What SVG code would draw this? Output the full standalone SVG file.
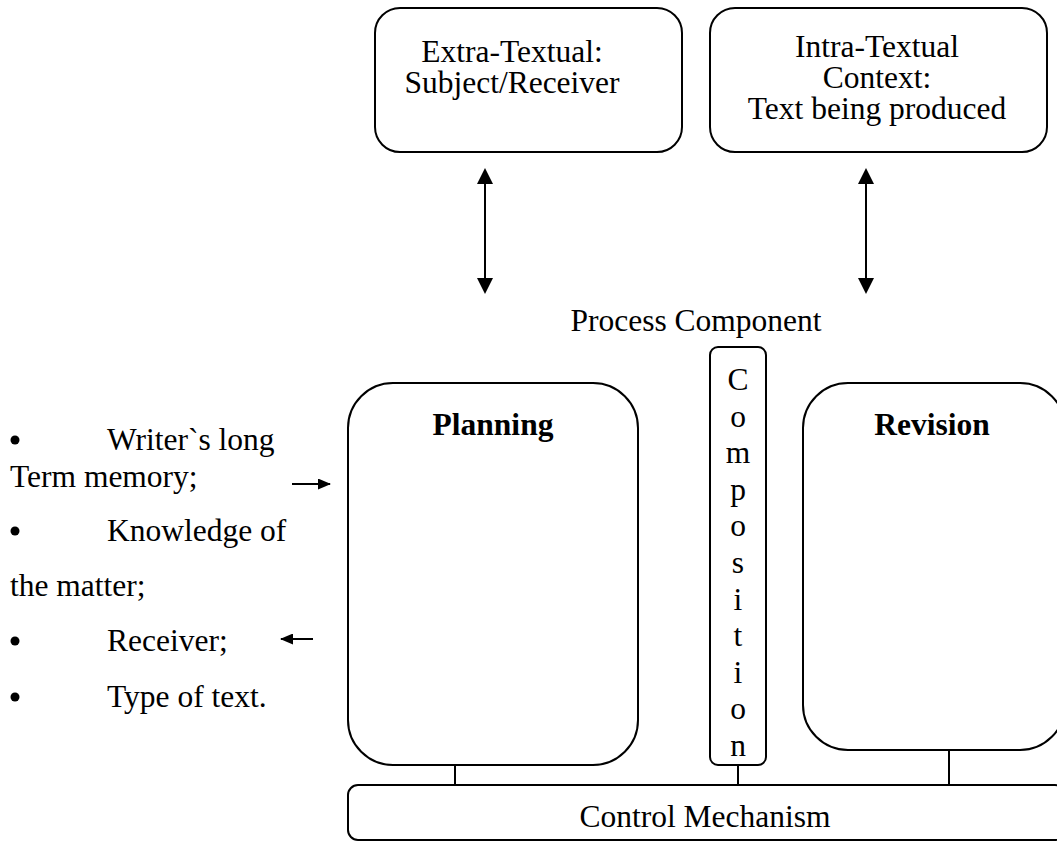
<svg xmlns="http://www.w3.org/2000/svg" width="1057" height="842" viewBox="0 0 1057 842">
<style>
.box{fill:#fff;stroke:#000;stroke-width:2}
.t{font-family:"Liberation Serif","Times New Roman",serif;font-size:31.5px;fill:#000}
.c{text-anchor:middle}
.b{font-weight:bold}
.ln{stroke:#000;stroke-width:2;fill:none}
</style>
<defs>
<marker id="ah" viewBox="0 0 16 16" refX="14" refY="8" markerWidth="16" markerHeight="16" markerUnits="userSpaceOnUse" orient="auto-start-reverse">
<path d="M0,0 L16,8 L0,16 Z" fill="#000"/>
</marker>
<marker id="sh" viewBox="0 0 13 11" refX="12" refY="5.5" markerWidth="13" markerHeight="11" markerUnits="userSpaceOnUse" orient="auto">
<path d="M0,0 L13,5.5 L0,11 Z" fill="#000"/>
</marker>
</defs>
<rect width="1057" height="842" fill="#fff"/>
<g id="extra-textual">
<rect class="box" x="375" y="8" width="307" height="144" rx="25"/>
<text class="t c" x="512" y="62">Extra-Textual:</text>
<text class="t c" x="512" y="93">Subject/Receiver</text>
</g>
<g id="intra-textual">
<rect class="box" x="710" y="8" width="337" height="144" rx="25"/>
<text class="t c" x="877" y="57">Intra-Textual</text>
<text class="t c" x="877" y="88">Context:</text>
<text class="t c" x="877" y="119">Text being produced</text>
</g>
<g id="process-label">
<text class="t c" x="696" y="331">Process Component</text>
</g>
<g id="planning">
<rect class="box" x="348" y="383" width="290" height="382" rx="45"/>
<text class="t c b" x="493" y="435">Planning</text>
</g>
<g id="composition">
<rect class="box" x="710" y="347" width="56" height="418" rx="8"/>
<text class="t c" x="738" y="390">C</text>
<text class="t c" x="738" y="427">o</text>
<text class="t c" x="738" y="463">m</text>
<text class="t c" x="738" y="500">p</text>
<text class="t c" x="738" y="536">o</text>
<text class="t c" x="738" y="573">s</text>
<text class="t c" x="738" y="610">i</text>
<text class="t c" x="738" y="646">t</text>
<text class="t c" x="738" y="683">i</text>
<text class="t c" x="738" y="719">o</text>
<text class="t c" x="738" y="756">n</text>
</g>
<g id="revision">
<rect class="box" x="803" y="383" width="262" height="367" rx="45"/>
<text class="t c b" x="932" y="435">Revision</text>
</g>
<g id="control-mechanism">
<rect class="box" x="348" y="785" width="717" height="55" rx="10"/>
<text class="t c" x="705" y="827">Control Mechanism</text>
</g>
<g id="inputs">
<circle cx="15" cy="440" r="4.5"/>
<text class="t" x="107" y="450">Writer`s long</text>
<text class="t" x="10" y="487">Term memory;</text>
<circle cx="15" cy="531" r="4.5"/>
<text class="t" x="107" y="541">Knowledge of</text>
<text class="t" x="10" y="596">the matter;</text>
<circle cx="15" cy="641" r="4.5"/>
<text class="t" x="107" y="651">Receiver;</text>
<circle cx="15" cy="697" r="4.5"/>
<text class="t" x="107" y="707">Type of text.</text>
</g>
<g id="connectors">
<line class="ln" x1="485" y1="170" x2="485" y2="292" marker-start="url(#ah)" marker-end="url(#ah)"/>
<line class="ln" x1="866" y1="170" x2="866" y2="292" marker-start="url(#ah)" marker-end="url(#ah)"/>
<line class="ln" x1="292" y1="484" x2="330" y2="484" marker-end="url(#sh)"/>
<line class="ln" x1="313" y1="639" x2="281" y2="639" marker-end="url(#sh)"/>
<line class="ln" x1="455" y1="765" x2="455" y2="785"/>
<line class="ln" x1="738" y1="765" x2="738" y2="785"/>
<line class="ln" x1="949" y1="750" x2="949" y2="785"/>
</g>
</svg>
